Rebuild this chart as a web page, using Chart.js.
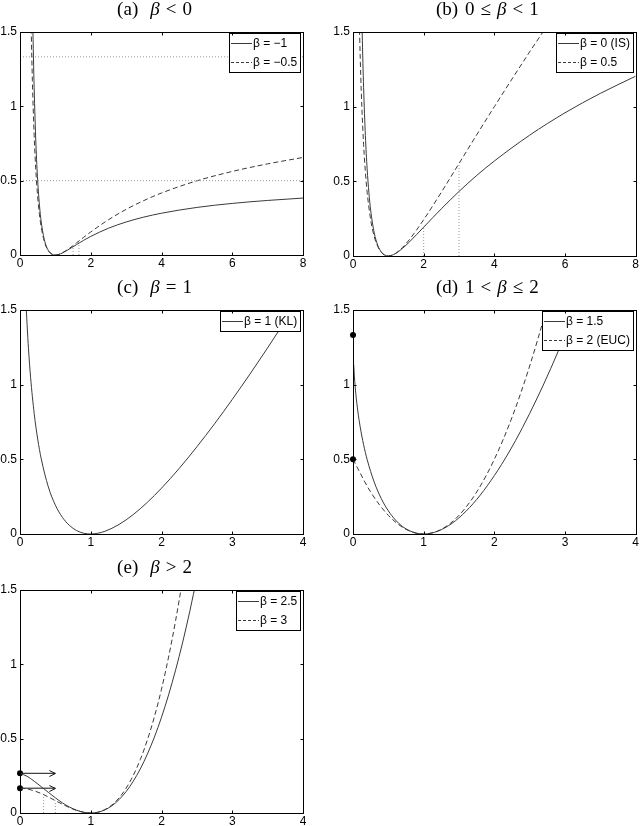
<!DOCTYPE html>
<html>
<head>
<meta charset="utf-8">
<script src="https://cdn.jsdelivr.net/npm/chart.js@4.4.0/dist/chart.umd.min.js"></script>
<style>
  html, body { margin: 0; padding: 0; background: #fff; }
  #fig { position: relative; width: 640px; height: 826px; overflow: hidden; }
  #fig canvas { position: absolute; }
</style>
</head>
<body>
<div id="fig"></div>
<script>
// d_beta(1 | x), one pair of arrays per curve

// (a) beta < 0
const xNeg1 = [0.35, 0.36, 0.38, 0.4, 0.45, 0.5, 0.55, 0.6, 0.7, 0.8, 0.9, 1, 1.1, 1.2, 1.4, 1.6, 1.8, 2, 2.5, 3, 3.5, 4, 5, 6, 7, 8];
const yNeg1 = [1.724, 1.580, 1.331, 1.125, 0.747, 0.5, 0.335, 0.222, 0.092, 0.031, 0.006, 0, 0.004, 0.014, 0.041, 0.070, 0.099, 0.125, 0.18, 0.222, 0.255, 0.281, 0.32, 0.347, 0.367, 0.383];
const xNegHalf = [0.3, 0.32, 0.35, 0.4, 0.45, 0.5, 0.55, 0.6, 0.7, 0.8, 0.9, 1, 1.1, 1.2, 1.4, 1.6, 1.8, 2, 2.5, 3, 3.5, 4, 5, 6, 7, 8];
const yNegHalf = [1.739, 1.481, 1.172, 0.806, 0.560, 0.391, 0.271, 0.186, 0.081, 0.029, 0.006, 0, 0.004, 0.015, 0.045, 0.082, 0.119, 0.155, 0.237, 0.307, 0.366, 0.417, 0.499, 0.562, 0.613, 0.656];
const asymA = [0.5, 1.333];
const inflAx = [1.5, 1.667];
const inflAy = [0.056, 0.094];

// (b) 0 <= beta < 1
const xIS = [0.24, 0.26, 0.28, 0.3, 0.35, 0.4, 0.45, 0.5, 0.6, 0.7, 0.8, 0.9, 1, 1.2, 1.4, 1.6, 2, 2.5, 3, 3.5, 4, 5, 6, 7, 8];
const yIS = [1.740, 1.499, 1.298, 1.129, 0.807, 0.584, 0.424, 0.307, 0.156, 0.072, 0.027, 0.006, 0, 0.016, 0.051, 0.095, 0.193, 0.316, 0.432, 0.539, 0.636, 0.809, 0.959, 1.089, 1.204];
const xHalf = [0.17, 0.19, 0.22, 0.25, 0.3, 0.35, 0.4, 0.5, 0.6, 0.7, 0.8, 0.9, 1, 1.2, 1.4, 1.6, 2, 2.5, 3, 3.5, 4, 5, 5.5, 6];
const yHalf = [1.676, 1.460, 1.202, 1.0, 0.747, 0.564, 0.427, 0.243, 0.131, 0.064, 0.025, 0.006, 0, 0.017, 0.057, 0.111, 0.243, 0.427, 0.619, 0.811, 1.0, 1.367, 1.543, 1.716];
const inflBx = [2, 3];
const inflBy = [0.193, 0.619];

// (c) beta = 1
const xKL = [0.07, 0.09, 0.1, 0.12, 0.15, 0.2, 0.25, 0.3, 0.4, 0.5, 0.6, 0.7, 0.8, 0.9, 1, 1.1, 1.2, 1.4, 1.6, 1.8, 2, 2.25, 2.5, 2.75, 3, 3.25, 3.5, 3.75, 4];
const yKL = [1.729, 1.498, 1.403, 1.240, 1.047, 0.809, 0.636, 0.504, 0.316, 0.193, 0.111, 0.057, 0.023, 0.005, 0, 0.005, 0.018, 0.064, 0.13, 0.212, 0.307, 0.439, 0.584, 0.738, 0.901, 1.071, 1.247, 1.428, 1.614];

// (d) 1 < beta <= 2
const x15 = [0.01, 0.02, 0.04, 0.07, 0.1, 0.15, 0.2, 0.3, 0.4, 0.5, 0.6, 0.7, 0.8, 0.9, 1, 1.2, 1.4, 1.6, 1.8, 2, 2.2, 2.4, 2.6, 2.8, 3, 3.2];
const y15 = [1.134, 1.052, 0.939, 0.817, 0.722, 0.598, 0.499, 0.348, 0.237, 0.155, 0.094, 0.050, 0.022, 0.005, 0, 0.019, 0.071, 0.153, 0.26, 0.391, 0.542, 0.714, 0.904, 1.110, 1.333, 1.572];
const xEUC = [0, 0.25, 0.5, 0.75, 1, 1.25, 1.5, 1.75, 2, 2.25, 2.5, 2.75, 3];
const yEUC = [0.5, 0.281, 0.125, 0.031, 0, 0.031, 0.125, 0.281, 0.5, 0.781, 1.125, 1.531, 2.0];
const dotsD = [1.333, 0.5];

// (e) beta > 2
const x25 = [0, 0.1, 0.2, 0.3, 0.4, 0.5, 0.6, 0.7, 0.8, 0.9, 1, 1.1, 1.2, 1.3, 1.4, 1.5, 1.6, 1.7, 1.8, 1.9, 2, 2.1, 2.2, 2.3, 2.4, 2.5];
const y25 = [0.267, 0.247, 0.214, 0.177, 0.139, 0.102, 0.068, 0.040, 0.019, 0.005, 0, 0.005, 0.021, 0.049, 0.090, 0.144, 0.213, 0.296, 0.396, 0.511, 0.644, 0.794, 0.963, 1.150, 1.357, 1.584];
const x3 = [0, 0.1, 0.2, 0.3, 0.4, 0.5, 0.6, 0.7, 0.8, 0.9, 1, 1.1, 1.2, 1.3, 1.4, 1.5, 1.6, 1.7, 1.8, 1.9, 2, 2.1, 2.2, 2.3, 2.4];
const y3 = [0.167, 0.162, 0.149, 0.131, 0.108, 0.083, 0.059, 0.036, 0.017, 0.005, 0, 0.005, 0.023, 0.054, 0.101, 0.167, 0.252, 0.359, 0.491, 0.648, 0.833, 1.049, 1.296, 1.577, 1.895];
const dotsE = [0.267, 0.167];
const arrowEndE = 0.5;
const inflEx = [0.333, 0.5];
const inflEy = [0.123, 0.083];

const yTicksMax = 1.5;

const SANS = "'Liberation Sans', Arial, sans-serif";
const SERIF = "'Liberation Serif', 'DejaVu Serif', serif";
const INK = "#3a3a3a";

function pts(xs, ys) { return xs.map((x, i) => ({ x, y: ys[i] })); }

function curve(xs, ys, dashed) {
  return {
    data: pts(xs, ys), borderColor: INK, borderWidth: 1,
    borderDash: dashed ? [5, 3] : [], pointRadius: 0,
    cubicInterpolationMode: "monotone", fill: false
  };
}
function guide(xs, ys) {
  return { data: pts(xs, ys), borderColor: "#9a9a9a", borderWidth: 1, borderDash: [1, 2], pointRadius: 0, tension: 0 };
}
function vGuides(xs, tops) { return xs.map((x, i) => guide([x, x], [0, tops[i]])); }
function hGuides(ys, x0, x1) { return ys.map(y => guide([x0, x1], [y, y])); }
function dots(ys) {
  return { data: pts(ys.map(() => 0), ys), showLine: false, pointRadius: 3, pointBackgroundColor: "#000", pointBorderColor: "#000", pointBorderWidth: 0, clip: false };
}
function arrows(ys, xEnd) {
  return ys.map(y => ({ data: pts([0, xEnd], [y, y]), borderColor: "#111", borderWidth: 1, pointRadius: 0, tension: 0, clip: false }));
}

// frame with inward ticks, title, legend, arrow heads
const panelDeco = {
  id: "panelDeco",
  afterDatasetsDraw(chart, args, opt) {
    const { ctx, chartArea: a, scales: { x, y } } = chart;
    ctx.save();
    ctx.setLineDash([]);

    // arrow heads
    (opt.arrowYs || []).forEach(v => {
      const px = x.getPixelForValue(opt.arrowEnd), py = Math.round(y.getPixelForValue(v)) + 0.5;
      ctx.strokeStyle = "#111"; ctx.lineWidth = 1;
      ctx.beginPath();
      ctx.moveTo(px - 6, py - 3); ctx.lineTo(px, py); ctx.lineTo(px - 6, py + 3);
      ctx.stroke();
    });

    // legend
    ctx.font = "12px " + SANS;
    const tw = Math.max(...opt.legend.map(l => ctx.measureText(l[0]).width));
    const w = Math.round(2 + 21 + 1 + tw + 3), h = opt.legend.length * 19 + 1;
    const bx = Math.round(a.right) - 3 - w, by = Math.round(a.top) + 1;
    ctx.fillStyle = "#fff";
    ctx.fillRect(bx, by, w, h);
    ctx.strokeStyle = "#000";
    ctx.strokeRect(bx + 0.5, by + 0.5, w, h);
    opt.legend.forEach((l, i) => {
      const ry = by + 10 + i * 19 + 0.5;
      ctx.strokeStyle = INK;
      ctx.setLineDash(l[1] ? [3, 2] : []);
      ctx.beginPath(); ctx.moveTo(bx + 2, ry); ctx.lineTo(bx + 23, ry); ctx.stroke();
      ctx.setLineDash([]);
      ctx.fillStyle = "#000"; ctx.textBaseline = "middle"; ctx.textAlign = "left";
      ctx.fillText(l[0], bx + 24, ry);
    });

    // frame + inward ticks on all four sides
    const L = Math.round(a.left) + 0.5, R = Math.round(a.right) + 0.5;
    const T = Math.round(a.top) + 0.5, B = Math.round(a.bottom) + 0.5;
    ctx.strokeStyle = "#000"; ctx.lineWidth = 1;
    ctx.strokeRect(L, T, R - L, B - T);
    ctx.beginPath();
    x.ticks.forEach(t => {
      const px = Math.round(x.getPixelForValue(t.value)) + 0.5;
      ctx.moveTo(px, B); ctx.lineTo(px, B - 3);
      ctx.moveTo(px, T); ctx.lineTo(px, T + 3);
    });
    y.ticks.forEach(t => {
      const py = Math.round(y.getPixelForValue(t.value)) + 0.5;
      ctx.moveTo(L, py); ctx.lineTo(L + 3, py);
      ctx.moveTo(R, py); ctx.lineTo(R - 3, py);
    });
    ctx.stroke();

    // title, math-ish spacing, italic beta
    const toks = opt.title.split(" ");
    const fontOf = t => (t === "β" ? "italic " : "") + "19px " + SERIF;
    const gaps = toks.map((t, i) => i === 0 ? 0 : (i === 1 ? (t === "β" ? 12 : 7) : 6));
    let total = 0;
    toks.forEach((t, i) => { ctx.font = fontOf(t); total += gaps[i] + ctx.measureText(t).width; });
    let cx = (a.left + a.right) / 2 - 7 - total / 2;
    ctx.fillStyle = "#000"; ctx.textBaseline = "middle"; ctx.textAlign = "left";
    toks.forEach((t, i) => {
      ctx.font = fontOf(t);
      cx += gaps[i];
      ctx.fillText(t, cx, a.top - 22);
      cx += ctx.measureText(t).width;
    });
    ctx.restore();
  }
};

function makePanel(p) {
  const cv = document.createElement("canvas");
  cv.width = 320; cv.height = 280;
  cv.style.left = p.cx + "px"; cv.style.top = p.cy + "px";
  document.getElementById("fig").appendChild(cv);
  const tickFont = { family: SANS, size: 12 };
  new Chart(cv, {
    type: "line",
    data: { datasets: p.datasets },
    plugins: [panelDeco],
    options: {
      responsive: false, animation: false, devicePixelRatio: 1,
      layout: { padding: { left: 0, top: p.plot[1] - p.cy, right: p.cx + 320 - p.plot[2], bottom: p.cy + 280 - p.plot[3] - 20 } },
      plugins: {
        legend: { display: false }, tooltip: { enabled: false },
        panelDeco: { title: p.title, legend: p.legend, arrowYs: p.arrowYs, arrowEnd: p.arrowEnd }
      },
      scales: {
        x: {
          type: "linear", min: 0, max: p.xMax,
          ticks: { stepSize: p.xStep, color: "#000", font: tickFont, padding: 1, maxRotation: 0, autoSkip: false, callback: v => String(v) },
          grid: { display: false, drawTicks: false }, border: { display: false },
          afterFit: s => { s.height = 20; }
        },
        y: {
          type: "linear", min: 0, max: yTicksMax,
          ticks: { stepSize: 0.5, color: "#000", font: tickFont, padding: 3, callback: v => String(v) },
          grid: { display: false, drawTicks: false }, border: { display: false },
          afterFit: s => { s.width = p.plot[0] - p.cx; }
        }
      }
    }
  });
}

makePanel({
  cx: 0, cy: 0, plot: [20, 32, 303, 255], xMax: 8, xStep: 2, title: "(a) β < 0",
  legend: [["β = −1", false], ["β = −0.5", true]],
  datasets: [...hGuides(asymA, 0, 8), ...vGuides(inflAx, inflAy), curve(xNeg1, yNeg1, false), curve(xNegHalf, yNegHalf, true)]
});
makePanel({
  cx: 320, cy: 0, plot: [353, 32, 637, 256], xMax: 8, xStep: 2, title: "(b) 0 ≤ β < 1",
  legend: [["β = 0 (IS)", false], ["β = 0.5", true]],
  datasets: [...vGuides(inflBx, inflBy), curve(xIS, yIS, false), curve(xHalf, yHalf, true)]
});
makePanel({
  cx: 0, cy: 278, plot: [20, 310, 303, 534], xMax: 4, xStep: 1, title: "(c) β = 1",
  legend: [["β = 1 (KL)", false]],
  datasets: [curve(xKL, yKL, false)]
});
makePanel({
  cx: 320, cy: 278, plot: [353, 310, 637, 534], xMax: 4, xStep: 1, title: "(d) 1 < β ≤ 2",
  legend: [["β = 1.5", false], ["β = 2 (EUC)", true]],
  datasets: [curve(x15, y15, false), curve(xEUC, yEUC, true), dots(dotsD)]
});
makePanel({
  cx: 0, cy: 558, plot: [20, 590, 303, 813], xMax: 4, xStep: 1, title: "(e) β > 2",
  legend: [["β = 2.5", false], ["β = 3", true]],
  arrowYs: dotsE, arrowEnd: arrowEndE,
  datasets: [...vGuides(inflEx, inflEy), curve(x25, y25, false), curve(x3, y3, true), ...arrows(dotsE, arrowEndE), dots(dotsE)]
});
</script>
</body>
</html>
